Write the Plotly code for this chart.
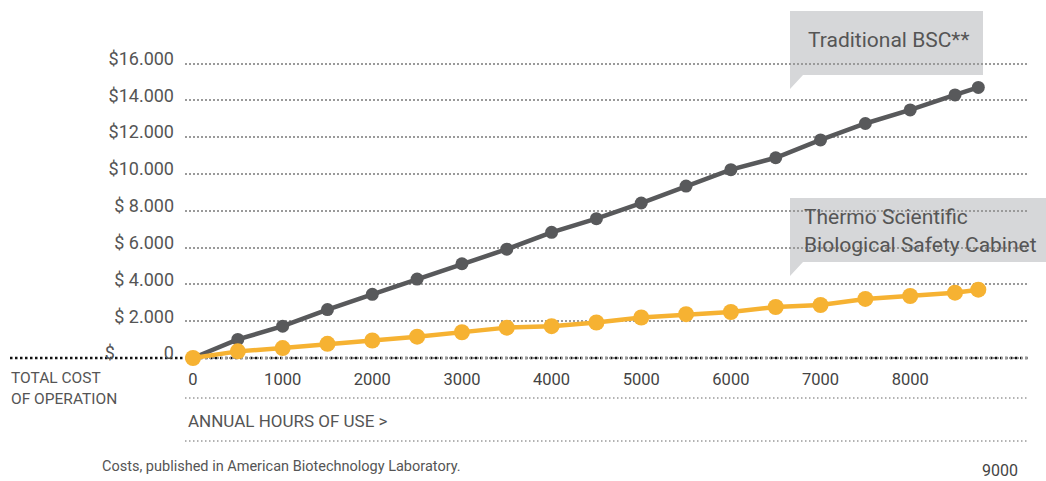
import plotly.graph_objects as go

# ---- data ----
hours = [0, 500, 1000, 1500, 2000, 2500, 3000, 3500, 4000, 4500,
         5000, 5500, 6000, 6500, 7000, 7500, 8000, 8500, 8760]
traditional_bsc = [0, 1010, 1730, 2630, 3460, 4290, 5120, 5910, 6830, 7570,
                   8420, 9340, 10230, 10880, 11850, 12740, 13480, 14290, 14700]
thermo_bsc = [0, 360, 540, 770, 950, 1160, 1400, 1650, 1730, 1930,
              2200, 2380, 2500, 2770, 2880, 3210, 3370, 3550, 3710]

x_tick_vals = [0, 1000, 2000, 3000, 4000, 5000, 6000, 7000, 8000]
x_tick_text = ["0", "1000", "2000", "3000", "4000", "5000", "6000", "7000", "8000"]
y_tick_vals = [0, 2000, 4000, 6000, 8000, 10000, 12000, 14000, 16000]
NB = "\u00a0"
y_tick_text = ["$" + NB * 11 + "0", "$" + NB + "2.000", "$" + NB + "4.000",
               "$" + NB + "6.000", "$" + NB + "8.000", "$10.000", "$12.000",
               "$14.000", "$16.000"]

# ---- layout geometry (pixels) ----
W, H = 1046, 481
L, R, T, B = 185, 1028, 50, 363


def px(x):
    return (x - L) / (R - L)


def py(y):
    return (B - y) / (B - T)


FONT = "Roboto"
GRAY_TXT = "#555555"
GRAY_LINE = "#58595b"
YELLOW = "#f6b232"
BOX = "#d6d7d9"

fig = go.Figure()
fig.add_trace(go.Scatter(
    x=hours, y=traditional_bsc, mode="lines+markers", name="Traditional BSC**",
    line=dict(color=GRAY_LINE, width=4.5),
    marker=dict(color=GRAY_LINE, size=13), cliponaxis=False))
fig.add_trace(go.Scatter(
    x=hours, y=thermo_bsc, mode="lines+markers",
    name="Thermo Scientific Biological Safety Cabinet",
    line=dict(color=YELLOW, width=4.5),
    marker=dict(color=YELLOW, size=16), cliponaxis=False))

shapes = []
# callout boxes (below gridlines)
shapes.append(dict(type="path", xref="paper", yref="paper", layer="below",
                   path=f"M {px(790)},{py(11)} L {px(983)},{py(11)} L {px(983)},{py(75)} "
                        f"L {px(803)},{py(75)} L {px(790)},{py(89)} Z",
                   fillcolor=BOX, line=dict(width=0)))
shapes.append(dict(type="path", xref="paper", yref="paper", layer="below",
                   path=f"M {px(790)},{py(198)} L {px(1046)},{py(198)} L {px(1046)},{py(262)} "
                        f"L {px(803)},{py(262)} L {px(790)},{py(276)} Z",
                   fillcolor=BOX, line=dict(width=0)))
# black dotted zero line across
shapes.append(dict(type="line", xref="paper", yref="y", layer="between",
                   x0=px(10), x1=1, y0=0, y1=0,
                   line=dict(color="#111111", width=2.5, dash="2.5px,2.5px")))
# lower gray dotted rules
for yy in (398, 441):
    shapes.append(dict(type="line", xref="paper", yref="paper",
                       x0=0, x1=1, y0=py(yy), y1=py(yy),
                       line=dict(color="#9a9a9a", width=1.5, dash="1.5px,2.5px")))

annotations = [
    dict(text="Traditional BSC**", x=px(806), y=py(40), xanchor="left", yanchor="middle",
         font=dict(size=21, color=GRAY_TXT, family=FONT)),
    dict(text="Thermo Scientific", x=px(802), y=py(217), xanchor="left", yanchor="middle",
         font=dict(size=21, color=GRAY_TXT, family=FONT)),
    dict(text="Biological Safety Cabinet", x=px(802), y=py(245), xanchor="left", yanchor="middle",
         font=dict(size=21, color=GRAY_TXT, family=FONT)),
    dict(text="TOTAL COST", x=px(9), y=py(378), xanchor="left", yanchor="middle",
         font=dict(size=15.5, color=GRAY_TXT, family=FONT)),
    dict(text="OF OPERATION", x=px(9), y=py(399), xanchor="left", yanchor="middle",
         font=dict(size=15.5, color=GRAY_TXT, family=FONT)),
    dict(text="ANNUAL HOURS OF USE &gt;", x=px(186), y=py(421), xanchor="left", yanchor="middle",
         font=dict(size=17, color=GRAY_TXT, family=FONT)),
    dict(text="Costs, published in American Biotechnology Laboratory.", x=px(100), y=py(466),
         xanchor="left", yanchor="middle",
         font=dict(size=14.5, color=GRAY_TXT, family=FONT)),
    dict(text="9000", x=9000, xref="x", y=py(470), xanchor="center", yanchor="middle",
         font=dict(size=16, color="#444444", family=FONT)),
]
for a in annotations:
    a.setdefault("xref", "paper")
    a["yref"] = "paper"
    a["showarrow"] = False

px_per_hour = (955 - 193) / 8500
px_per_usd = (358 - 63.5) / 16000

fig.update_layout(
    width=W, height=H,
    margin=dict(l=L, r=W - R, t=T, b=H - B, pad=0),
    paper_bgcolor="white", plot_bgcolor="white",
    showlegend=False,
    shapes=shapes, annotations=annotations,
    xaxis=dict(range=[-(193 - L) / px_per_hour, (R - 193) / px_per_hour],
               tickvals=x_tick_vals, ticktext=x_tick_text,
               showgrid=False, zeroline=False, showline=False, ticks="",
               ticklabelstandoff=4,
               tickfont=dict(size=16.5, color="#444444", family=FONT)),
    yaxis=dict(range=[-(B - 358) / px_per_usd, (358 - T) / px_per_usd],
               tickvals=y_tick_vals, ticktext=y_tick_text,
               showgrid=True, gridcolor="#9a9a9a", gridwidth=1.5, griddash="1.5px,2.5px",
               zeroline=False, showline=False, ticks="",
               ticklabelstandoff=10, ticklabelshift=-5,
               tickfont=dict(size=18, color=GRAY_TXT, family=FONT)),
)

fig.write_html("out.html", config={"displayModeBar": False},
               post_script="document.body.style.margin='0px';")
